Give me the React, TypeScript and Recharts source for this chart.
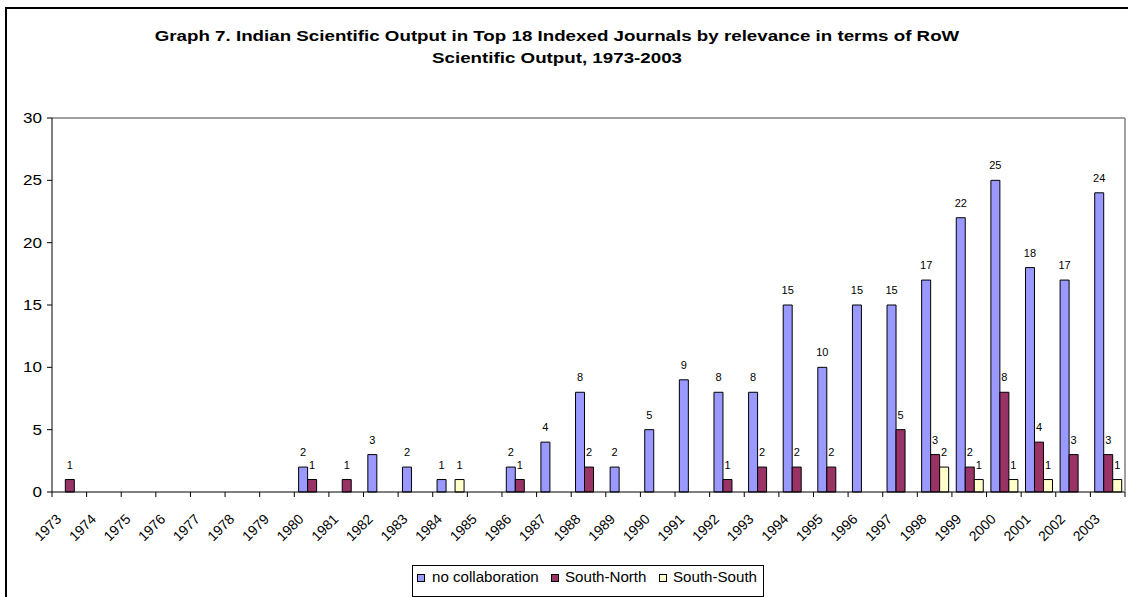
import { BarChart, Bar, XAxis, YAxis, LabelList, ReferenceLine } from 'recharts';

const years = [
  '1973', '1974', '1975', '1976', '1977', '1978', '1979', '1980', '1981', '1982',
  '1983', '1984', '1985', '1986', '1987', '1988', '1989', '1990', '1991', '1992',
  '1993', '1994', '1995', '1996', '1997', '1998', '1999', '2000', '2001', '2002', '2003',
];

const noCollaboration = [
  0, 0, 0, 0, 0, 0, 0, 2, 0, 3,
  2, 1, 0, 2, 4, 8, 2, 5, 9, 8,
  8, 15, 10, 15, 15, 17, 22, 25, 18, 17, 24,
];

const southNorth = [
  1, 0, 0, 0, 0, 0, 0, 1, 1, 0,
  0, 0, 0, 1, 0, 2, 0, 0, 0, 1,
  2, 2, 2, 0, 5, 3, 2, 8, 4, 3, 3,
];

const southSouth = [
  0, 0, 0, 0, 0, 0, 0, 0, 0, 0,
  0, 1, 0, 0, 0, 0, 0, 0, 0, 0,
  0, 0, 0, 0, 0, 2, 1, 1, 1, 0, 1,
];

const yTicks = [0, 5, 10, 15, 20, 25, 30];

const data = years.map((year, i) => ({
  year,
  noCollab: noCollaboration[i],
  southNorth: southNorth[i],
  southSouth: southSouth[i],
}));

const FONT = '"Liberation Sans", Arial, sans-serif';
const CHART_W = 1128;
const CHART_H = 597;
const PLOT_LEFT = 52;
const PLOT_RIGHT = 1125;
const band = (PLOT_RIGHT - PLOT_LEFT) / years.length;

// the original picture is stretched sideways, so most text is a bit wider than Arial
const STRETCH = 1.22;

const XTick = (props: any) => {
  const { x, y, payload, index } = props;
  const left = x - band / 2;
  const ax = x - 7;
  const ay = y + 28;
  return (
    <g>
      <line x1={left} x2={left} y1={y} y2={y + 5} stroke="#000" />
      {index === years.length - 1 && (
        <line x1={x + band / 2} x2={x + band / 2} y1={y} y2={y + 5} stroke="#000" />
      )}
      <text
        x={ax}
        y={ay}
        textAnchor="end"
        transform={`rotate(-45, ${ax}, ${ay})`}
        fontSize={14}
        fontFamily={FONT}
        fill="#000"
      >
        {payload.value}
      </text>
    </g>
  );
};

const YTick = (props: any) => {
  const { x, y, payload } = props;
  return (
    <text
      transform={`translate(${x}, ${y}) scale(${STRETCH}, 1)`}
      x={0}
      y={0}
      dy="0.36em"
      textAnchor="end"
      fontSize={14}
      fontFamily={FONT}
      fill="#000"
    >
      {payload.value}
    </text>
  );
};

const hideZero = (v: any) => (v ? v : '');

const legendItems = [
  { name: 'no collaboration', color: '#9999FF', box: 417, text: 432 },
  { name: 'South-North', color: '#993366', box: 551, text: 565 },
  { name: 'South-South', color: '#FFFFCC', box: 659, text: 673 },
];

export default function App() {
  return (
    <div
      style={{
        position: 'absolute',
        left: 0,
        top: 0,
        width: CHART_W,
        height: CHART_H,
        overflow: 'hidden',
        background: '#fff',
        fontFamily: FONT,
      }}
    >
      <div
        style={{
          position: 'absolute',
          left: 5,
          top: 7,
          width: 1300,
          height: 800,
          border: '2px solid #000',
        }}
      />
      <div style={{ position: 'absolute', left: 0, top: 0 }}>
        <BarChart
          width={CHART_W}
          height={CHART_H}
          data={data}
          margin={{ top: 118, right: 0, left: 0, bottom: 0 }}
          barCategoryGap="12.5%"
          barGap={0}
        >
          <XAxis
            dataKey="year"
            interval={0}
            height={105}
            tickSize={0}
            tickMargin={0}
            tickLine={false}
            axisLine={{ stroke: '#000' }}
            tick={<XTick />}
          />
          <YAxis
            width={PLOT_LEFT}
            domain={[0, 30]}
            ticks={yTicks}
            interval={0}
            tickSize={5}
            tickMargin={5}
            tickLine={{ stroke: '#000' }}
            axisLine={{ stroke: '#000' }}
            tick={<YTick />}
          />
          <YAxis
            yAxisId="right"
            orientation="right"
            width={CHART_W - PLOT_RIGHT}
            domain={[0, 30]}
            tick={false}
            tickLine={false}
            axisLine={{ stroke: '#808080', strokeWidth: 1.5 }}
          />
          <ReferenceLine y={30} stroke="#808080" strokeWidth={1.5} />
          <Bar dataKey="noCollab" name="no collaboration" fill="#9999FF" stroke="#000" strokeWidth={1} isAnimationActive={false}>
            <LabelList dataKey="noCollab" position="top" offset={11} formatter={hideZero} fontSize={11} fill="#000" fontFamily={FONT} />
          </Bar>
          <Bar dataKey="southNorth" name="South-North" fill="#993366" stroke="#000" strokeWidth={1} isAnimationActive={false}>
            <LabelList dataKey="southNorth" position="top" offset={11} formatter={hideZero} fontSize={11} fill="#000" fontFamily={FONT} />
          </Bar>
          <Bar dataKey="southSouth" name="South-South" fill="#FFFFCC" stroke="#000" strokeWidth={1} isAnimationActive={false}>
            <LabelList dataKey="southSouth" position="top" offset={11} formatter={hideZero} fontSize={11} fill="#000" fontFamily={FONT} />
          </Bar>
        </BarChart>
      </div>
      <svg
        width={CHART_W}
        height={CHART_H}
        style={{ position: 'absolute', left: 0, top: 0, pointerEvents: 'none' }}
      >
        <g fontSize={15} fontWeight="bold" fontFamily={FONT} fill="#000" textAnchor="middle">
          <text transform={`translate(557, 41) scale(1.25, 1)`}>
            Graph 7. Indian Scientific Output in Top 18 Indexed Journals by relevance in terms of RoW
          </text>
          <text transform={`translate(557, 63) scale(1.25, 1)`}>
            Scientific Output, 1973-2003
          </text>
        </g>
        <rect x={412.5} y={565.5} width={351} height={31} fill="#fff" stroke="#000" strokeWidth={1} />
        {legendItems.map((item) => (
          <g key={item.name}>
            <rect x={item.box + 0.5} y={574.5} width={7} height={7} fill={item.color} stroke="#000" strokeWidth={1} />
            <text
              transform={`translate(${item.text}, 582) scale(1.08, 1)`}
              fontSize={14}
              fontFamily={FONT}
              fill="#000"
            >
              {item.name}
            </text>
          </g>
        ))}
      </svg>
    </div>
  );
}
